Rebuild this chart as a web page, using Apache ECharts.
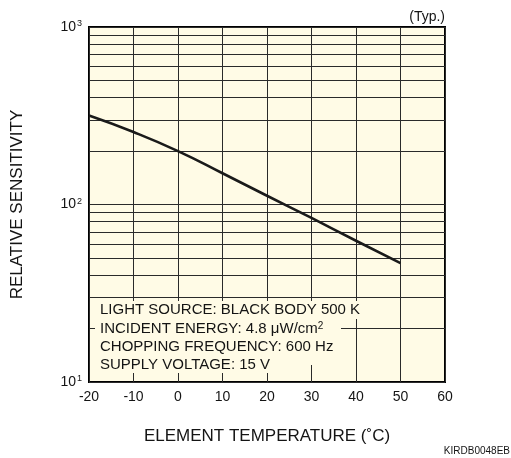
<!DOCTYPE html>
<html>
<head>
<meta charset="utf-8">
<script src="https://cdn.jsdelivr.net/npm/echarts@6/dist/echarts.min.js"></script>
<style>html,body{margin:0;padding:0;background:#fff;}#c{width:511px;height:458px;}</style>
</head>
<body>
<div id="c"></div>
<script>
// Data
const temps = [-20, -10, 0, 10, 20, 30, 40, 50];
const sensitivity = [317, 256, 200, 150, 112, 84, 62.5, 46.7];
const xTickValues = [-20, -10, 0, 10, 20, 30, 40, 50, 60];
const minorGridValues = [20, 30, 40, 50, 60, 70, 80, 90, 200, 300, 400, 500, 600, 700, 800, 900];
const noteLines = [
  'LIGHT SOURCE: BLACK BODY 500 K',
  'INCIDENT ENERGY: 4.8 \u03bcW/cm{s|2}',
  'CHOPPING FREQUENCY: 600 Hz',
  'SUPPLY VOLTAGE: 15 V'
];
const xName = 'ELEMENT TEMPERATURE (\u02daC)';
const yName = 'RELATIVE SENSITIVITY';
const typLabel = '(Typ.)';
const codeLabel = 'KIRDB0048EB';

const BG = '#FFFBE6';
const GRID = '#2a2a2a';
const FONT = 'Liberation Sans, Arial, sans-serif';
const TXT = '#141414';

const chart = echarts.init(document.getElementById('c'), null, {renderer: 'canvas'});

const masks = [
  {x: 91, y: 301, w: 273, h: 18},
  {x: 95, y: 319, w: 246, h: 19},
  {x: 91, y: 338, w: 246, h: 18},
  {x: 91, y: 356, w: 224, h: 9},
  {x: 91, y: 365, w: 209, h: 8}
];
const lineY = [310, 328.6, 347, 365];

const graphics = [];
masks.forEach(m => graphics.push({
  type: 'rect', z: 100, silent: true,
  shape: {x: m.x, y: m.y, width: m.w, height: m.h},
  style: {fill: BG}
}));
noteLines.forEach((t, i) => graphics.push({
  type: 'text', z: 101, silent: true,
  x: 100, y: lineY[i],
  style: {
    text: t, fill: TXT, font: '15px ' + FONT,
    verticalAlign: 'middle', align: 'left',
    rich: {s: {fontSize: 10, verticalAlign: 'top', padding: [0, 0, 4, 0], fill: TXT, fontFamily: FONT}}
  }
}));
graphics.push({
  type: 'text', z: 101, x: 445, y: 17,
  style: {text: typLabel, fill: TXT, font: '14px ' + FONT, align: 'right', verticalAlign: 'middle'}
});
graphics.push({
  type: 'text', z: 101, x: 510, y: 451,
  style: {text: codeLabel, fill: TXT, font: '10px ' + FONT, align: 'right', verticalAlign: 'middle'}
});

chart.setOption({
  animation: false,
  backgroundColor: '#fff',
  graphic: graphics,
  grid: {
    left: 89, right: 66, top: 27, bottom: 76,
    show: true, backgroundColor: BG, borderColor: '#000', borderWidth: 2
  },
  xAxis: {
    type: 'value', min: -20, max: 60, interval: 10,
    name: xName, nameLocation: 'middle', nameGap: 46,
    nameTextStyle: {fontFamily: FONT, fontSize: 17, color: TXT},
    axisLine: {show: false},
    axisTick: {show: false},
    axisLabel: {fontFamily: FONT, fontSize: 14, color: TXT, margin: 8,
      customValues: xTickValues},
    splitLine: {show: true, lineStyle: {color: GRID, width: 1}}
  },
  yAxis: {
    type: 'log', logBase: 10, min: 10, max: 1000,
    name: yName, nameLocation: 'middle', nameGap: 63, nameRotate: 90,
    nameTextStyle: {fontFamily: FONT, fontSize: 17, color: TXT},
    axisLine: {show: false},
    axisTick: {show: false},
    axisLabel: {
      margin: 7, color: TXT,
      formatter: function (v) {
        const e = Math.round(Math.log10(v));
        return '{b|10}{s|' + e + '}';
      },
      rich: {
        b: {fontFamily: FONT, fontSize: 14, color: TXT},
        s: {fontFamily: FONT, fontSize: 9, color: TXT, verticalAlign: 'top', padding: [0, 0, 6, 1]}
      }
    },
    splitLine: {show: true, lineStyle: {color: GRID, width: 1}},
    minorSplitLine: {show: false}
  },
  series: [
    {
      type: 'line', data: [], silent: true, z: 1,
      markLine: {
        silent: true, symbol: 'none', label: {show: false},
        animation: false,
        lineStyle: {color: GRID, width: 1, type: 'solid'},
        emphasis: {disabled: true},
        data: minorGridValues.map(v => ({yAxis: v}))
      }
    },
    {
      type: 'line', z: 5,
      data: temps.map((t, i) => [t, sensitivity[i]]),
      smooth: true, showSymbol: false, symbol: 'none',
      lineStyle: {color: '#1a1a1a', width: 2.6},
      silent: true
    }
  ]
});
</script>
</body>
</html>
